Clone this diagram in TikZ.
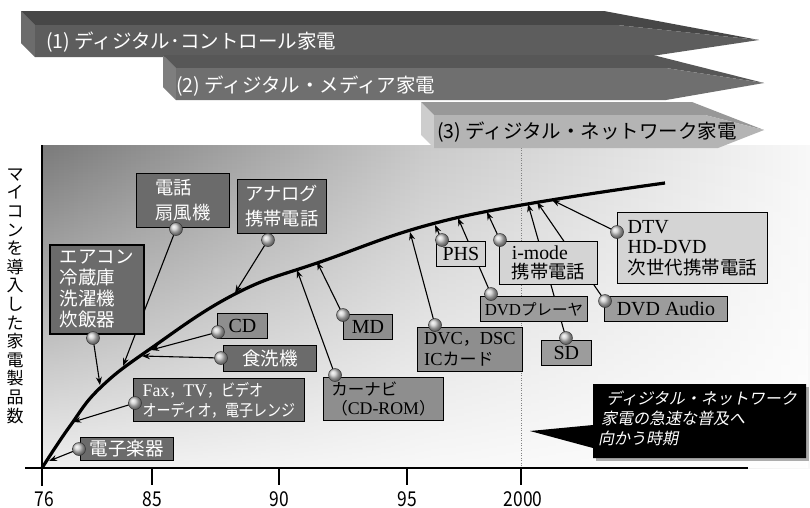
\documentclass[tikz,border=0pt]{standalone}
\usepackage{fontspec}
\setmainfont{Liberation Serif}[Scale=1.08]
\newfontfamily\jp{Noto Sans CJK JP}
\newfontfamily\jpn{Noto Sans CJK JP}[FakeStretch=0.85]
\newfontfamily\jpit{Noto Sans CJK JP}[FakeSlant=0.2]
\usetikzlibrary{arrows.meta,fadings}
\pgfdeclarelayer{bg}
\pgfdeclarelayer{mid}
\pgfsetlayers{bg,mid,main}
\tikzfading[name=fadedown, top color=transparent!100, bottom color=transparent!12]
\definecolor{bdark}{HTML}{6B6B6B}
\definecolor{bmid}{HTML}{8E8E8E}
\definecolor{bmed}{HTML}{9C9C9C}
\definecolor{blight}{HTML}{D4D4D4}
\definecolor{gA}{HTML}{7A7A7A}
\definecolor{gB}{HTML}{CACACA}
\definecolor{gC}{HTML}{F8F8F8}
\definecolor{bIt}{HTML}{474747}
\definecolor{bIf}{HTML}{5D5D5D}
\definecolor{bIs}{HTML}{6C6C6C}
\definecolor{bIIt}{HTML}{575757}
\definecolor{bIIf}{HTML}{6F6F6F}
\definecolor{bIIs}{HTML}{7E7E7E}
\definecolor{bIIIt}{HTML}{989898}
\definecolor{bIIIf}{HTML}{B4B4B4}
\definecolor{bIIIs}{HTML}{CDCDCD}
\newcommand\rmx[1]{{\rmfamily #1}}
\begin{document}
\begin{tikzpicture}[x=1pt,y=-1pt,
  lbl/.style={draw=black, line width=0.8pt, anchor=north west, inner sep=0pt, align=left},
  boxdk/.style={lbl, fill=bdark, text=white},
  boxmd/.style={lbl, fill=bmid, text=black},
  boxme/.style={lbl, fill=bmed, text=black},
  boxlt/.style={lbl, fill=blight, text=black},
  knob/.style={circle, inner sep=0pt, minimum size=13pt, draw=black!80, line width=0.5pt, ball color=gray!40},
  arr/.style={line width=1.1pt, -{Stealth[length=8pt,width=6pt]}},
  banfont/.style={font={\jp\fontsize{19.5}{22}\selectfont}, inner sep=0pt, anchor=west},
  ticklab/.style={font={\jpn\fontsize{20.5}{22}\selectfont}, inner sep=0pt, anchor=base},
]
\useasboundingbox (0,0) rectangle (810,507);

% ---------- background ----------
\begin{pgfonlayer}{bg}
\fill[white] (0,0) rectangle (810,507);
\shade[left color=gA, right color=gC, middle color=gB] (42,145) rectangle (810,468);
\fill[white, path fading=fadedown] (42,145) rectangle (810,468);
\draw[gray, line width=0.8pt, dash pattern=on 1pt off 1.5pt] (521,145) -- (521,468);
\end{pgfonlayer}

% ---------- banners ----------
\fill[bIs] (21,11) -- (35,25) -- (35,57) -- (21,43) -- cycle;
\fill[bIt] (21,11) -- (604,11) -- (759,40) -- (617,25) -- (35,25) -- cycle;
\fill[bIf] (35,25) -- (617,25) -- (759,40) -- (645,57) -- (35,57) -- cycle;
\node[banfont, text=white] (ban1) at (46,42) {(1) ディジタル･コントロール家電};

\fill[bIIs] (163,55) -- (176,68) -- (176,100) -- (163,87) -- cycle;
\fill[bIIt] (163,55) -- (653,55) -- (764,83) -- (666,68) -- (176,68) -- cycle;
\fill[bIIf] (176,68) -- (666,68) -- (764,83) -- (666,100) -- (176,100) -- cycle;
\node[banfont, text=white] (ban2) at (176,86) {(2) ディジタル・メディア家電};

\fill[bIIIs] (421,102) -- (434,115) -- (434,148) -- (421,135) -- cycle;
\fill[bIIIt] (421,102) -- (692,102) -- (764,130) -- (705,115) -- (434,115) -- cycle;
\fill[bIIIf] (434,115) -- (705,115) -- (764,130) -- (718,148) -- (434,148) -- cycle;
\node[banfont, text=black] (ban3) at (437,132) {(3) ディジタル・ネットワーク家電};

% ---------- axes ----------
\draw[line width=2.8pt] (25,468) -- (748,468);
\draw[line width=2.8pt] (42,145) -- (42,486);
\foreach \x in {152,279,407,521} \draw[line width=2.4pt] (\x,468) -- (\x,485);
\node[ticklab] (l76) at (44,506) {76};
\node[ticklab] (l85) at (152,506) {85};
\node[ticklab] (l90) at (279,506) {90};
\node[ticklab] (l95) at (407,506) {95};
\node[ticklab] (l00) at (523,506) {2000};

\node[font={\jp\fontsize{17}{18.6}\selectfont}, align=center, inner sep=0pt] (ylab) at (15,296)
  {マ\\イ\\コ\\ン\\を\\導\\入\\し\\た\\家\\電\\製\\品\\数};

% ---------- curve ----------
\begin{pgfonlayer}{mid}
\draw[line width=3.2pt] plot[smooth, tension=0.7] coordinates {(42,468) (70,426) (100,388) (150,349) (235,294) (320,262) (460,217) (665,183)};
\end{pgfonlayer}

% tips on the curve
\coordinate (tAC) at (100,385);
\coordinate (tTel) at (123,366);
\coordinate (tSh) at (142,356);
\coordinate (tCD) at (151,350);
\coordinate (tAna) at (235,293);
\coordinate (tFax) at (73,422);
\coordinate (tDen) at (49,461);
\coordinate (tMD) at (317,262);
\coordinate (tNav) at (297,270);
\coordinate (tDVC) at (410,232);
\coordinate (tPHS) at (435,225);
\coordinate (tDVDp) at (458,218);
\coordinate (tImode) at (487,212);
\coordinate (tSD) at (528,204);
\coordinate (tDVDA) at (537,202);
\coordinate (tDTV) at (552,200);

% ---------- label boxes ----------
\node[boxdk, minimum width=93pt, minimum height=54pt, font={\jp\fontsize{18.3}{25}\selectfont}] (tel) at (136,173) {電話\\扇風機};
\node[boxdk, line width=1.5pt, minimum width=94pt, minimum height=89pt, font={\jp\fontsize{18.5}{21}\selectfont}] (ac) at (49,244) {エアコン\\冷蔵庫\\洗濯機\\炊飯器};
\node[boxdk, minimum width=89pt, minimum height=54pt, font={\jp\fontsize{18.3}{25}\selectfont}] (ana) at (237,179) {アナログ\\携帯電話};
\node[boxmd, minimum width=50pt, minimum height=25pt, font={\jp\fontsize{18.5}{21}\selectfont}] (cd) at (217,313) {\rmx{CD}};
\node[boxdk, minimum width=93pt, minimum height=26pt, font={\jp\fontsize{18.5}{21}\selectfont}] (sh) at (223,345) {食洗機};
\node[boxdk, minimum width=171pt, minimum height=43pt, font={\jpn\fontsize{16.5}{20}\selectfont}] (fax) at (133,378) {\rmx{Fax}，\rmx{TV}，ビデオ\\オーディオ，電子レンジ};
\node[boxdk, minimum width=93pt, minimum height=23pt, font={\jp\fontsize{18.5}{21}\selectfont}] (den) at (80,437) {電子楽器};
\node[boxmd, minimum width=49pt, minimum height=25pt, font={\jp\fontsize{18.5}{21}\selectfont}] (mdb) at (343,314) {\rmx{MD}};
\node[boxmd, minimum width=120pt, minimum height=43pt, font={\jp\fontsize{16.5}{19}\selectfont}] (nav) at (323,377) {カーナビ\\（\rmx{CD-ROM}）};
\node[boxmd, minimum width=105pt, minimum height=44pt, font={\jp\fontsize{17}{21}\selectfont}] (dvc) at (417,327) {\rmx{DVC}，\rmx{DSC}\\\rmx{IC}カード};
\node[boxlt, minimum width=49pt, minimum height=25pt, font={\jp\fontsize{18.5}{21}\selectfont}] (phs) at (436,241) {\rmx{PHS}};
\node[boxlt, minimum width=98pt, minimum height=43pt, font={\jp\fontsize{18.3}{19}\selectfont}] (imode) at (499,241) {\rmx{i-mode}\\携帯電話};
\node[boxme, minimum width=107pt, minimum height=25pt, font={\jp\fontsize{15.5}{19}\selectfont}] (dvdp) at (480,296) {\rmx{DVD}プレーヤ};
\node[boxme, minimum width=50pt, minimum height=25pt, font={\jp\fontsize{18.5}{21}\selectfont}] (sd) at (541,340) {\rmx{SD}};
\node[boxme, minimum width=123pt, minimum height=25pt, font={\jp\fontsize{18.5}{21}\selectfont}] (dvda) at (604,296) {\rmx{DVD Audio}};
\node[boxlt, minimum width=150pt, minimum height=71pt, font={\jp\fontsize{18.5}{20.5}\selectfont}] (dtv) at (617,212) {\rmx{DTV}\\\rmx{HD-DVD}\\次世代携帯電話};

% ---------- knobs ----------
\node[knob] (kTel) at (176,229) {};
\node[knob] (kAC) at (93,338) {};
\node[knob] (kAna) at (268,240) {};
\node[knob] (kCD) at (218,332) {};
\node[knob] (kSh) at (221,358) {};
\node[knob] (kFax) at (135,403) {};
\node[knob] (kDen) at (79,449) {};
\node[knob] (kMD) at (343,315) {};
\node[knob] (kNav) at (335,375) {};
\node[knob] (kDVC) at (435,325) {};
\node[knob] (kPHS) at (442,240) {};
\node[knob] (kImode) at (500,240) {};
\node[knob] (kDVDp) at (491,294) {};
\node[knob] (kSD) at (566,338) {};
\node[knob] (kDVDA) at (605,301) {};
\node[knob] (kDTV) at (617,232) {};

% ---------- connectors ----------
\begin{pgfonlayer}{mid}
\draw[arr] (kTel.center) -- (tTel);
\draw[arr] (kAC.center) -- (tAC);
\draw[arr] (kAna.center) -- (tAna);
\draw[arr] (kCD.center) -- (tCD);
\draw[arr] (kSh.center) -- (tSh);
\draw[arr] (kFax.center) -- (tFax);
\draw[arr] (kDen.center) -- (tDen);
\draw[arr] (kMD.center) -- (tMD);
\draw[arr] (kNav.center) -- (tNav);
\draw[arr] (kDVC.center) -- (tDVC);
\draw[arr] (kPHS.center) -- (tPHS);
\draw[arr] (kImode.center) -- (tImode);
\draw[arr] (kDVDp.center) -- (tDVDp);
\draw[arr] (kSD.center) -- (tSD);
\draw[arr] (kDVDA.center) -- (tDVDA);
\draw[arr] (kDTV.center) -- (tDTV);
\end{pgfonlayer}

% ---------- callout ----------
\fill[gray!65] (596,387) rectangle (809,461);
\fill[black] (593,384) -- (806,384) -- (806,458) -- (593,458) -- (593,448) -- (530,431) -- (593,425) -- cycle;
\node[anchor=north west, inner sep=0pt, align=left, text=white, font={\jpit\fontsize{16}{20}\selectfont}] (callt) at (598,391)
  {\hspace*{8pt}ディジタル・ネットワーク\\\hspace*{3pt}家電の急速な普及へ\\向かう時期};
\end{tikzpicture}
\end{document}
